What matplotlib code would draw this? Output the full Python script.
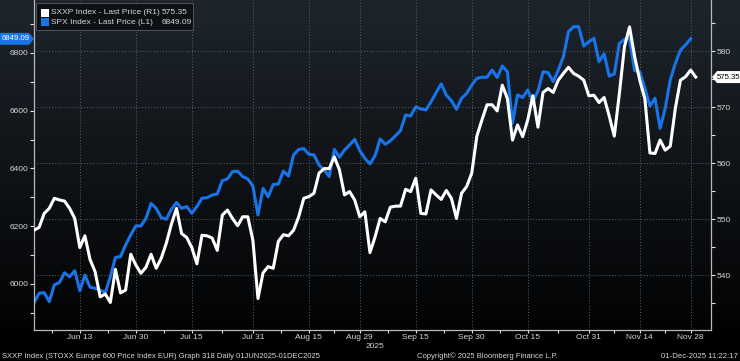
import numpy as np
import pandas as pd
import matplotlib
matplotlib.use("Agg")
import matplotlib.pyplot as plt
from matplotlib.patches import Rectangle, Polygon

plt.rcParams["font.family"] = ["Liberation Sans", "DejaVu Sans"]

# SPX Index last price (left axis), one value per business day from 02-Jun-2025
spx = [
    5935, 5968, 5970, 5939, 5997, 6005, 6039, 6025, 6046, 5977,
    6031, 5989, 5985, 5979, 5970, 6025, 6092, 6095, 6135, 6170,
    6201, 6201, 6227, 6279, 6262, 6230, 6224, 6259, 6282, 6262,
    6268, 6245, 6268, 6297, 6299, 6308, 6312, 6358, 6364, 6389,
    6391, 6372, 6364, 6339, 6239, 6331, 6302, 6345, 6346, 6391,
    6374, 6447, 6466, 6469, 6449, 6447, 6412, 6395, 6372, 6466,
    6439, 6464, 6481, 6501, 6462, 6435, 6416, 6444, 6502, 6484,
    6496, 6513, 6531, 6585, 6582, 6614, 6606, 6603, 6631, 6663,
    6693, 6654, 6635, 6605, 6643, 6660, 6689, 6712, 6716, 6716,
    6741, 6715, 6755, 6735, 6556, 6655, 6646, 6672, 6631, 6668,
    6735, 6732, 6701, 6741, 6787, 6874, 6891, 6891, 6824, 6839,
    6851, 6770, 6797, 6720, 6727, 6833, 6847, 6851, 6739, 6735,
    6678, 6616, 6643, 6539, 6608, 6707, 6764, 6810, 6828, 6849.09,
]

# SXXP Index last price (right axis), same calendar plus 01-Dec-2025
sxxp = [
    548.0, 548.5, 551.0, 551.9, 553.7, 553.4, 553.2, 551.9, 550.1, 544.9,
    547.0, 542.8, 540.6, 536.1, 536.6, 535.1, 541.0, 536.8, 537.3, 543.7,
    541.8, 540.3, 541.4, 543.7, 541.2, 543.0, 545.7, 549.1, 551.9, 547.4,
    546.7, 544.9, 542.0, 547.1, 547.0, 546.6, 544.4, 550.7, 551.6, 550.1,
    548.8, 550.4, 550.4, 546.2, 535.8, 540.4, 541.5, 541.2, 546.0, 547.2,
    547.0, 548.0, 550.4, 553.7, 554.0, 554.6, 558.2, 559.0, 559.0, 561.1,
    558.8, 554.3, 554.9, 553.4, 550.4, 551.3, 544.0, 546.8, 550.1, 549.5,
    552.1, 552.3, 552.3, 555.3, 554.9, 557.3, 551.0, 550.9, 555.2, 554.3,
    553.5, 555.1, 553.7, 550.1, 554.6, 555.8, 558.2, 564.8, 567.7, 570.4,
    570.4, 569.3, 573.9, 571.5, 564.1, 566.8, 564.7, 567.7, 572.0, 566.4,
    572.6, 573.3, 572.6, 574.8, 576.0, 577.1, 576.0, 575.5, 574.8, 572.0,
    572.1, 570.8, 571.7, 568.4, 564.8, 572.4, 580.8, 584.3, 579.0, 574.8,
    571.5, 561.8, 561.7, 564.1, 562.3, 563.0, 569.8, 574.8, 575.4, 576.6,
    575.35,
]

tick_dates = ["2025-06-13", "2025-06-30", "2025-07-15", "2025-07-31",
              "2025-08-15", "2025-08-29", "2025-09-15", "2025-09-30",
              "2025-10-15", "2025-10-31", "2025-11-14", "2025-11-28"]
tick_labels = ["Jun 13", "Jun 30", "Jul 15", "Jul 31", "Aug 15", "Aug 29",
               "Sep 15", "Sep 30", "Oct 15", "Oct 31", "Nov 14", "Nov 28"]
spx_ticks = [6000, 6200, 6400, 6600, 6800]
sxxp_ticks = [540, 550, 560, 570, 580]

days = pd.bdate_range("2025-06-02", "2025-12-01")
tick_pos = [days.get_loc(pd.Timestamp(d)) for d in tick_dates]

BLUE = "#1874e8"
FG = "#d6d6d6"
GRID = "#59626b"
W, H = 740, 361
FS = 6.0

fig = plt.figure(figsize=(W / 100, H / 100), dpi=100)
fig.patch.set_facecolor("black")

# background gradient behind the plot area
bg = fig.add_axes([0, 0, 1, 1], zorder=-5)
top = np.array([0.115, 0.145, 0.175])
bot = np.array([0.01, 0.01, 0.012])
t = np.linspace(0, 1, 330)[:, None]
img = (top * (1 - t) + bot * t)[:, None, :]
bg.imshow(img, extent=[0, 1, 1 - 330 / H, 1], aspect="auto", interpolation="bilinear")
bg.set_xlim(0, 1)
bg.set_ylim(0, 1)
bg.axis("off")

ax = fig.add_axes([34 / W, 1 - 330 / H, (711 - 34) / W, 330 / H])
ax.set_facecolor("none")
ax.plot(np.arange(len(spx)), spx, color=BLUE, lw=2.2, solid_joinstyle="round")
ax.set_ylim(5840.7, 6983.5)
ax.set_xlim(0, 133)

ax2 = ax.twinx()
ax2.set_facecolor("none")
ax2.plot(np.arange(len(sxxp)), sxxp, color="white", lw=2.2, solid_joinstyle="round")
ax2.set_ylim(530.18, 589.11)

ax.set_yticks(spx_ticks)
ax.set_yticks(np.arange(5900, 7000, 200), minor=True)
ax2.set_yticks(sxxp_ticks)
ax2.set_yticks(np.arange(535, 590, 10), minor=True)
ax.set_xticks(tick_pos, tick_labels)
mids = [tick_pos[0] - 5.5] + [(a + b) / 2 for a, b in zip(tick_pos[:-1], tick_pos[1:])]
ax.set_xticks(mids, minor=True)

for a in (ax, ax2):
    a.tick_params(which="both", direction="out", colors="#e0e0e0", labelcolor=FG,
                  labelsize=FS, length=3, width=0.8, pad=1)
    for s in a.spines.values():
        s.set_color("#b8b8b8")
        s.set_linewidth(0.9)
    a.spines["top"].set_visible(False)
ax.spines["right"].set_visible(False)
ax2.spines["left"].set_visible(False)
ax2.spines["bottom"].set_visible(False)
ax.tick_params(axis="x", which="both", length=2.5, pad=0.5)

ax.grid(axis="x", which="major", color=GRID, lw=0.7, ls=(0, (1, 2)))
ax2.grid(axis="y", which="major", color=GRID, lw=0.7, ls=(0, (1, 2)))
ax.set_axisbelow(True)
ax2.set_axisbelow(True)
ax2.lines[0].set_zorder(3)

ax.text(66.9, -0.05, "2025", transform=ax.get_xaxis_transform(),
        ha="center", va="center", fontsize=FS, color=FG)

# overlay in pixel coordinates for legend, price tags and footer
ov = fig.add_axes([0, 0, 1, 1], zorder=10)
ov.set_xlim(0, W)
ov.set_ylim(0, H)
ov.axis("off")
ov.patch.set_visible(False)

ov.add_patch(Rectangle((36, H - 30), 157, 27, facecolor="#0d1115", edgecolor="#4a5056", lw=0.8))
ov.add_patch(Rectangle((41, H - 16.5), 8, 8, facecolor="white", edgecolor="none"))
ov.add_patch(Rectangle((41, H - 26), 8, 8, facecolor=BLUE, edgecolor="none"))
ov.text(51, H - 12.5, "SXXP Index - Last Price (R1)", fontsize=FS, color=FG, va="center")
ov.text(51, H - 22, "SPX Index - Last Price (L1)", fontsize=FS, color=FG, va="center")
ov.text(162, H - 12.5, f"{sxxp[-1]:.2f}", fontsize=FS, color=FG, va="center")
ov.text(162, H - 22, f"{spx[-1]:.2f}", fontsize=FS, color=FG, va="center")

fig.canvas.draw()
_, yl = ax.transData.transform((0, spx[-1]))
_, yr = ax2.transData.transform((0, sxxp[-1]))
ov.add_patch(Polygon([(0, yl + 6), (29, yl + 6), (34, yl), (29, yl - 6), (0, yl - 6)],
                     closed=True, facecolor=BLUE, edgecolor="none"))
ov.text(15.5, yl, f"{spx[-1]:.2f}", fontsize=5.6, color="white", ha="center", va="center")
ov.add_patch(Polygon([(712, yr), (717, yr + 6), (741, yr + 6), (741, yr - 6), (717, yr - 6)],
                     closed=True, facecolor="white", edgecolor="none"))
ov.text(716.5, yr, f"{sxxp[-1]:.2f}", fontsize=5.6, color="black", ha="left", va="center")

ov.text(2, H - 356, "SXXP Index (STOXX Europe 600 Price Index EUR) Graph 318 Daily 01JUN2025-01DEC2025",
        fontsize=5.5, color=FG, va="center")
ov.text(417, H - 356, "Copyright\u00a9 2025 Bloomberg Finance L.P.", fontsize=5.5, color=FG, va="center")
ov.text(738, H - 356, "01-Dec-2025 11:22:17", fontsize=5.6, color=FG, va="center", ha="right")

fig.savefig("out.png", dpi=100, facecolor=fig.get_facecolor())
